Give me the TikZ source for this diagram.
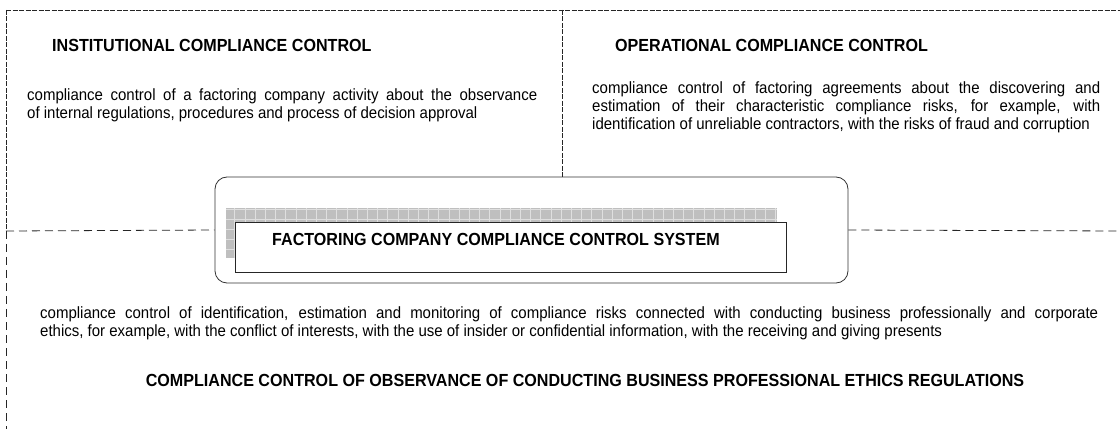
\documentclass[tikz,border=0pt]{standalone}
\usepackage{fontspec}
\setmainfont{Liberation Sans}[FakeStretch=0.92]
\usetikzlibrary{positioning}
\begin{document}
\begin{tikzpicture}[x=1pt,y=1pt,
  heading/.style={font=\bfseries\fontsize{17.5}{20}\selectfont, inner sep=0pt, anchor=west},
  bodytext/.style={font=\fontsize{16.3}{18.2}\selectfont, inner sep=0pt, anchor=north west, align=justify},
  fineline/.style={draw=lineColor, line width=0.7pt, dash pattern=on 5pt off 1.5pt},
  dashline/.style={draw=lineColor, line width=0.8pt, dash pattern=on 8pt off 5pt},
  sysbox/.style={draw=black!80, line width=0.8pt, rounded corners=12pt, minimum width=633pt, minimum height=106pt, inner sep=0pt},
  shadebox/.style={fill=gray!50, minimum width=551pt, minimum height=50pt, inner sep=0pt},
  titlebox/.style={draw=black!85, line width=0.8pt, fill=white, minimum width=551pt, minimum height=50pt, inner sep=0pt}]
\definecolor{lineColor}{gray}{0.15}
\path[use as bounding box,fill=white] (0,0) rectangle (1120,429);

% frame of the three fields
\coordinate (tl) at (6,419);
\coordinate (tr) at (1120,419);
\coordinate (tm) at (562,419);
\coordinate (ml) at (6,198);
\coordinate (mr) at (1120,198);
\coordinate (bl) at (6,0);

\node[sysbox] (sys) at (531.5,199) {};

\path[fineline] (tl) -- (tr);
\path[fineline] (tl) -- (ml);
\path[dashline] (ml) -- (bl);
\path[fineline] (tm) -- (tm |- sys.north);
\path[dashline] (ml) -- (sys.west);
\path[dashline] (sys.east) -- (mr);

% system box with its shadow
\node[shadebox] (shade) at (501.5,196) {};
\begin{scope}
\path[clip] (shade.south west) rectangle (shade.north east);
\draw[white!75!gray, line width=0.5pt, xstep=10.2pt, ystep=10pt] (shade.south west) grid (shade.north east);
\end{scope}
\node[titlebox] (title) at (510.5,182) {};
\node[heading, anchor=west] (titletext) at (272,190) {FACTORING COMPANY COMPLIANCE CONTROL SYSTEM};

% institutional field
\node[heading] (inst) at (52,384) {INSTITUTIONAL COMPLIANCE CONTROL};
\node[bodytext, text width=510pt] (insttext) at (27,341)
  {compliance control of a factoring company activity about the observance\linebreak
   of internal regulations, procedures and process of decision approval};

% operational field
\node[bodytext, text width=508pt] (opertext) at (592,348)
  {compliance control of factoring agreements about the discovering and\linebreak
   estimation of their characteristic compliance risks, for example, with\linebreak
   identification of unreliable contractors, with the risks of fraud and corruption};
\node[heading] (oper) at (615,384) {OPERATIONAL COMPLIANCE CONTROL};

% ethics field
\node[bodytext, text width=1058pt] (ethtext) at (40,123)
  {compliance control of identification, estimation and monitoring of compliance risks connected with conducting business professionally and corporate\linebreak
   ethics, for example, with the conflict of interests, with the use of insider or confidential information, with the receiving and giving presents};
\node[heading, anchor=center] (eth) at (585,49) {COMPLIANCE CONTROL OF OBSERVANCE OF CONDUCTING BUSINESS PROFESSIONAL ETHICS REGULATIONS};
\end{tikzpicture}
\end{document}
